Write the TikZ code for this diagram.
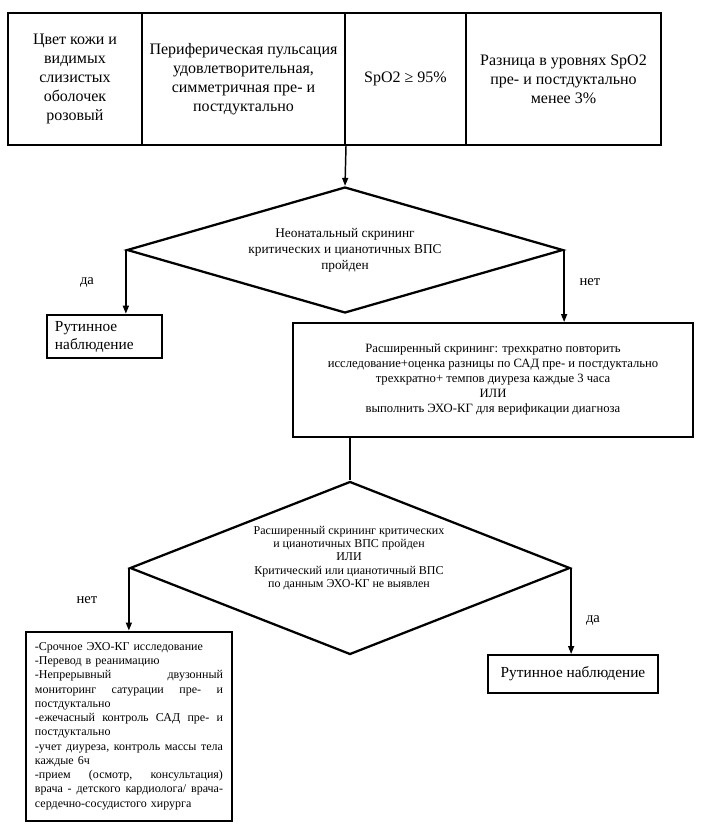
\documentclass[tikz,border=0pt]{standalone}
\usepackage{fontspec}
\setmainfont{Liberation Serif}
\usetikzlibrary{shapes.geometric,arrows.meta}
\newcommand{\pxl}{0.75pt}
\newcommand{\jline}[1]{\leavevmode\hbox to 141pt{#1}\\}

\begin{document}
\begin{tikzpicture}[x=0.75pt, y=-0.75pt,
    cell/.style={draw, line width=1.5pt, minimum height=132*\pxl, inner sep=0pt, align=center, font=\fontsize{12}{14.3}\selectfont},
    choice/.style={draw, diamond, line width=1.7pt, inner sep=0pt, align=center},
    box/.style={draw, line width=1.5pt, inner sep=0pt, align=center},
    arr/.style={line width=1.1pt, -{Triangle[length=6pt,width=4.5pt]}},
    lbl/.style={font=\fontsize{11}{13}\selectfont}]

    \useasboundingbox (0,0) rectangle (701,829);

    \node[cell, minimum width=134*\pxl] (c1) at (75,79) {Цвет кожи и\\видимых\\слизистых\\оболочек\\розовый};
    \node[cell, minimum width=203*\pxl] (c2) at (243.5,79) {Периферическая пульсация\\удовлетворительная,\\симметричная пре- и\\постдуктально};
    \node[cell, minimum width=121*\pxl] (c3) at (405.5,79) {SpO2 ≥ 95\%};
    \node[cell, minimum width=195*\pxl] (c4) at (563.5,79) {Разница в уровнях SpO2\\пре- и постдуктально\\менее 3\%};

    \node[choice, aspect=3.46, minimum width=436*\pxl, minimum height=126*\pxl, font=\fontsize{10}{12}\selectfont] (d1) at (345,250) {Неонатальный скрининг\\критических и цианотичных ВПС\\пройден};

    \node[box, line width=2pt, minimum width=115*\pxl, minimum height=43*\pxl, text width=99*\pxl, align=left, font=\fontsize{11.5}{13.5}\selectfont] (r1) at (104.5,336.5) {Рутинное\\наблюдение};
    \node[box, minimum width=400*\pxl, minimum height=114*\pxl, font=\fontsize{9.5}{11.25}\selectfont] (ext) at (493,380) {Расширенный скрининг: трехкратно повторить\\исследование+оценка разницы по САД пре- и постдуктально\\трехкратно+ темпов диуреза каждые 3 часа\\ИЛИ\\выполнить ЭХО-КГ  для верификации диагноза};

    \node[choice, aspect=2.54, minimum width=440*\pxl, minimum height=173*\pxl] (d2) at (350,568) {};
    \node[align=center, font=\fontsize{9}{10.1}\selectfont] (d2t) at (349,558) {Расширенный  скрининг критических\\и цианотичных  ВПС пройден\\ИЛИ\\Критический  или цианотичный  ВПС\\по данным  ЭХО-КГ не выявлен};

    \node[box, minimum width=206*\pxl, minimum height=189*\pxl, text width=188*\pxl, align=left, font=\fontsize{9}{10.7}\selectfont] (act) at (129,726) {-Срочное ЭХО-КГ исследование\\
-Перевод в реанимацию\\
\jline{-Непрерывный\hfill двузонный}
\jline{мониторинг\hfill сатурации\hfill пре-\hfill и}
постдуктально\\
\jline{-ежечасный\hfill контроль\hfill САД\hfill пре-\hfill и}
постдуктально\\
\jline{-учет\hfill диуреза,\hfill контроль\hfill массы\hfill тела}
каждые 6ч\\
\jline{-прием\hfill (осмотр,\hfill консультация)}
\jline{врача\hfill -\hfill детского\hfill кардиолога/\hfill врача-}
сердечно-сосудистого  хирурга};

    \node[box, minimum width=170*\pxl, minimum height=38*\pxl, font=\fontsize{11.5}{13.5}\selectfont] (r2) at (573,674) {Рутинное наблюдение};

    \node[lbl] (yes1) at (87,282) {да};
    \node[lbl] (no1) at (590,282) {нет};
    \node[lbl] (no2) at (87,600) {нет};
    \node[lbl] (yes2) at (593,620) {да};

    \draw[arr] (c2.south east) -- (d1.north);
    \draw[arr] (d1.west) -- (d1.west |- r1.north);
    \draw[arr] (d1.east) -- (d1.east |- ext.north);
    \draw[line width=1.1pt] (d2.north |- ext.south) -- (d2.north);
    \draw[arr] (d2.west) -- (d2.west |- act.north);
    \draw[arr] (d2.east) -- (d2.east |- r2.north);
\end{tikzpicture}
\end{document}
